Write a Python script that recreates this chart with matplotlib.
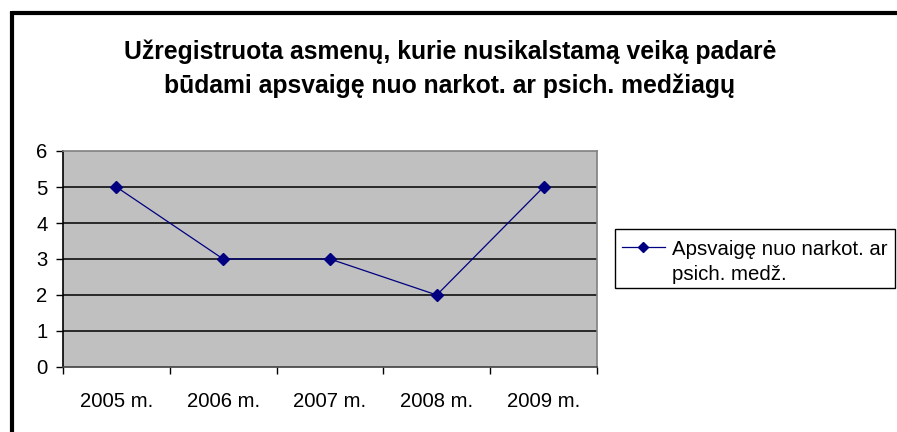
import numpy as np
import matplotlib
matplotlib.use('Agg')
import matplotlib.pyplot as plt
from matplotlib.lines import Line2D
from matplotlib.patches import Rectangle

plt.rcParams['font.family'] = ['Liberation Sans', 'DejaVu Sans']

years = ['2005 m.', '2006 m.', '2007 m.', '2008 m.', '2009 m.']
values = [5, 3, 3, 2, 5]
series_name = 'Apsvaigę nuo narkot. ar\npsich. medž.'
title = 'Užregistruota asmenų, kurie nusikalstamą veiką padarė\nbūdami apsvaigę nuo narkot. ar psich. medžiagų'

W, H = 897, 432
fig = plt.figure(figsize=(W / 100, H / 100), dpi=100)
fig.patch.set_facecolor('white')

def fx(px):
    return px / W

def fy(py):
    return 1 - py / H

ax = fig.add_axes([fx(63), fy(367), fx(597) - fx(63), fy(151) - fy(367)])
ax.set_facecolor('#C0C0C0')

x = np.arange(len(years))
ax.plot(x, values, color='#000080', lw=0.9, marker='D', markersize=6.5,
        markerfacecolor='#000080', markeredgecolor='#000080', zorder=3)

ax.set_xlim(-0.5, len(years) - 0.5)
ax.set_ylim(0, 6)
ax.set_yticks(range(0, 7))
ax.set_xticks(np.arange(-0.5, len(years), 1.0))
ax.set_xticklabels([])
ax.set_xticks(x, minor=True)
ax.set_xticklabels(years, minor=True)
ax.tick_params(axis='x', which='major', direction='out', length=5, width=1, color='black')
ax.tick_params(axis='x', which='minor', length=0, pad=18, labelsize=14.6)
ax.tick_params(axis='y', direction='out', length=5, width=1, color='black', pad=6, labelsize=14.6)

for v in range(1, 6):
    ax.axhline(v, color='black', lw=1.1, zorder=1)

ax.spines['left'].set_color('black')
ax.spines['bottom'].set_color('#404040')
ax.spines['top'].set_color('#808080')
ax.spines['right'].set_color('#808080')
for s in ax.spines.values():
    s.set_linewidth(1.2)

fig.text(fx(450), fy(69), title, ha='center', va='center', fontsize=17.8,
         fontweight='bold', linespacing=1.5)

# legend box
fig.add_artist(Rectangle((fx(615), fy(288)), fx(895) - fx(615), fy(229) - fy(288),
                         transform=fig.transFigure, facecolor='white',
                         edgecolor='black', lw=1.0))
fig.add_artist(Line2D([fx(622), fx(665)], [fy(247), fy(247)], transform=fig.transFigure,
                      color='#000080', lw=0.9))
fig.add_artist(Line2D([fx(643)], [fy(247)], transform=fig.transFigure, marker='D',
                      markersize=5, color='#000080', lw=0))
fig.text(fx(672), fy(262), series_name, ha='left', va='center', fontsize=14.7,
         linespacing=1.42)

# outer frame (top and left only visible)
fig.add_artist(Line2D([fx(12), fx(897)], [fy(13), fy(13)], transform=fig.transFigure,
                      color='black', lw=3, solid_capstyle='butt'))
fig.add_artist(Line2D([fx(12), fx(12)], [fy(11), fy(432)], transform=fig.transFigure,
                      color='black', lw=3, solid_capstyle='butt'))

fig.savefig('out.png', dpi=100)
